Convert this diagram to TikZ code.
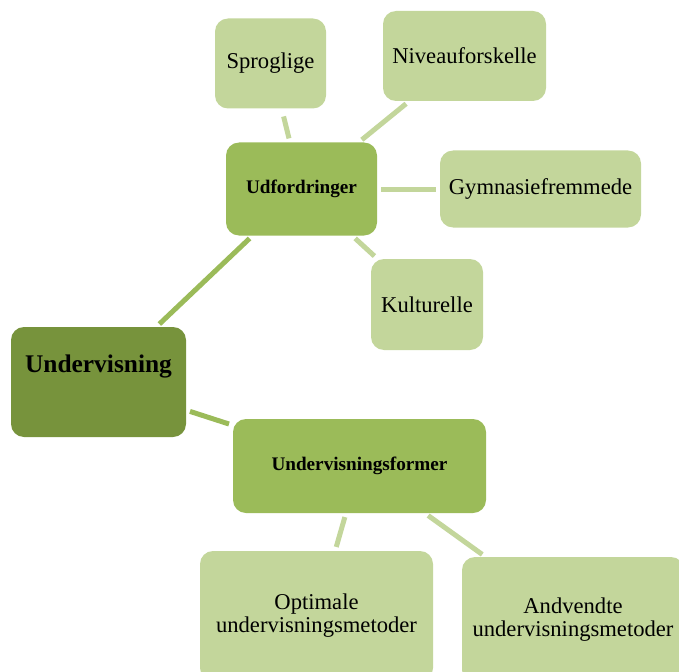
\documentclass[tikz,border=0pt]{standalone}
\usepackage{fontspec}
\setmainfont{Liberation Serif}
\definecolor{olivedark}{HTML}{77933C}
\definecolor{olivemid}{HTML}{9BBB59}
\definecolor{olivelight}{HTML}{C3D69B}
\begin{document}
\begin{tikzpicture}[x=1pt,y=-1pt,
  box/.style={rounded corners=13pt, inner sep=0pt, align=center, text=black},
  rootbox/.style={box, fill=olivedark, font=\bfseries\fontsize{25.4}{28}\selectfont,
    text height=18pt, text depth=38pt},
  midbox/.style={box, fill=olivemid, font=\bfseries\fontsize{19.2}{22}\selectfont},
  leafbox/.style={box, fill=olivelight, font=\fontsize{22.6}{24}\selectfont},
  mainlink/.style={draw=olivemid, line width=5pt, shorten <=4pt, shorten >=4pt},
  leaflink/.style={draw=olivelight, line width=5pt, shorten <=4pt, shorten >=4pt}]
\useasboundingbox (0,0) rectangle (679,671);
\clip (0,0) rectangle (679,671);

% hub boxes
\node[rootbox, minimum width=175pt, minimum height=110pt] (root) at (98.5,382) {Undervisning};
\node[midbox, minimum width=151pt, minimum height=93pt] (udf) at (301.5,189) {Udfordringer};
\node[midbox, minimum width=253pt, minimum height=94pt] (form) at (359.5,466) {Undervisningsformer};

% challenges
\node[leafbox, minimum width=111pt, minimum height=90pt] (sprog) at (270.5,63.5) {Sproglige};
\node[leafbox, minimum width=163pt, minimum height=90pt] (niveau) at (464.5,56) {Niveauforskelle};
\node[leafbox, minimum width=201pt, minimum height=77pt] (gym) at (540.5,189) {Gymnasiefremmede};
\node[leafbox, minimum width=112pt, minimum height=91pt] (kultur) at (427,304.5) {Kulturelle};

% teaching forms
\node[leafbox, minimum width=233pt, minimum height=130pt] (optimal) at (316.5,616) {Optimale\\[-1pt]undervisningsmetoder};
\node[leafbox, minimum width=222pt, minimum height=126pt] (anvendt) at (573,620) {Andvendte\\[-1pt]undervisningsmetoder};

% connectors
\draw[mainlink] (root) -- (udf);
\draw[mainlink] (root) -- (form);
\draw[leaflink, shorten <=8pt] (sprog) -- (udf);
\draw[leaflink] (udf) -- (niveau);
\draw[leaflink] (udf) -- (gym);
\draw[leaflink] (udf) -- (kultur);
\draw[leaflink] (form) -- (optimal);
\draw[leaflink] (form) -- (anvendt);
\end{tikzpicture}
\end{document}
